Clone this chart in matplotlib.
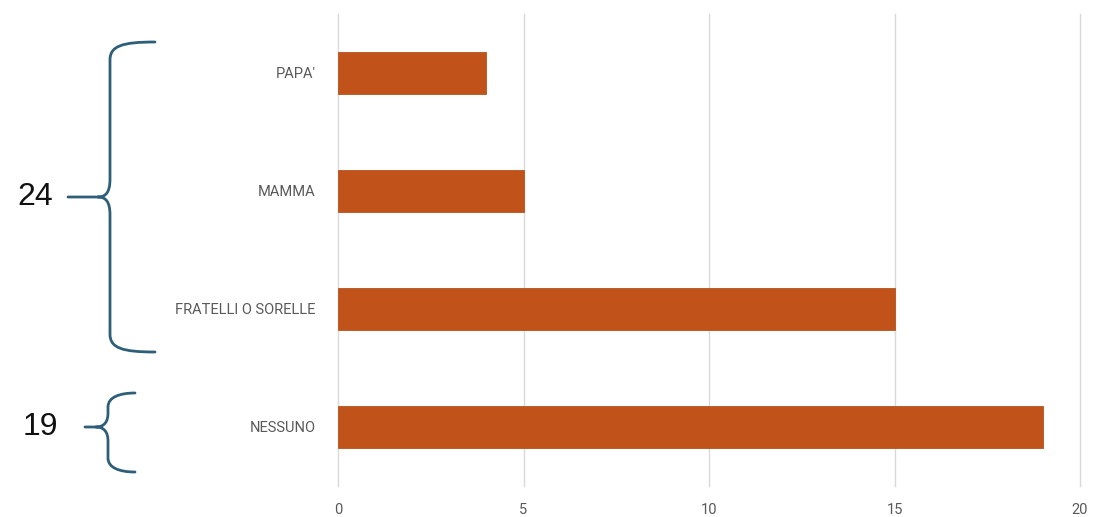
import matplotlib.pyplot as plt
from matplotlib.path import Path
from matplotlib.patches import PathPatch

categories = ["NESSUNO", "FRATELLI O SORELLE", "MAMMA", "PAPA'"]
values = [19, 15, 5, 4]
xticks = [0, 5, 10, 15, 20]
group_totals = [24, 19]

W, H = 1095, 517
plt.rcParams['font.family'] = ['Roboto', 'DejaVu Sans']

fig = plt.figure(figsize=(W / 100, H / 100), dpi=100)
ax = fig.add_axes([338 / W, 31 / H, 742 / W, 472 / H])

ax.barh(range(len(categories)), values, height=0.35, color="#c0521a",
        edgecolor="#b5541f", linewidth=0.6, zorder=3)
ax.set_yticks(range(len(categories)))
ax.set_yticklabels(categories)
ax.set_ylim(-0.5, len(categories) - 0.5)
ax.set_xlim(0, 20)
ax.set_xticks(xticks)
ax.grid(axis="x", color="#d9d9d9", linewidth=1.0, zorder=0)
for line in ax.get_xgridlines():
    line.set_clip_on(False)
for s in ax.spines.values():
    s.set_visible(False)
ax.tick_params(axis="both", length=0, colors="#595959", labelsize=10.5)
ax.tick_params(axis="y", pad=16)
ax.tick_params(axis="x", pad=12)


def px(x, y):
    return (x / W, 1 - y / H)


def brace(x0, xs, xt, y0, ym, y1, r):
    # curly brace opening to the right, tip pointing left at ym
    pts = [px(x0, y0), px(xs + 12, y0), px(xs, y0 + 4), px(xs, y0 + r),
           px(xs, ym - r),
           px(xs, ym - 5), px(xs - 4, ym), px(xs - 12, ym),
           px(xt, ym),
           px(xs - 12, ym),
           px(xs - 4, ym), px(xs, ym + 5), px(xs, ym + r),
           px(xs, y1 - r),
           px(xs, y1 - 4), px(xs + 12, y1), px(x0, y1)]
    codes = [Path.MOVETO, Path.CURVE4, Path.CURVE4, Path.CURVE4,
             Path.LINETO,
             Path.CURVE4, Path.CURVE4, Path.CURVE4,
             Path.LINETO,
             Path.MOVETO,
             Path.CURVE4, Path.CURVE4, Path.CURVE4,
             Path.LINETO,
             Path.CURVE4, Path.CURVE4, Path.CURVE4]
    patch = PathPatch(Path(pts, codes), transform=fig.transFigure,
                      facecolor="none", edgecolor="#2f5f78", linewidth=2.0,
                      capstyle="round")
    fig.add_artist(patch)


brace(155, 110, 68, 42, 197, 352, 18)
brace(135, 108, 85, 393, 427, 472, 14)

fig.text(*px(35, 197), str(group_totals[0]), fontsize=23, family="Liberation Sans",
         ha="center", va="center", color="#111111")
fig.text(*px(40, 427), str(group_totals[1]), fontsize=23, family="Liberation Sans",
         ha="center", va="center", color="#111111")

fig.savefig("out.png", dpi=100)
